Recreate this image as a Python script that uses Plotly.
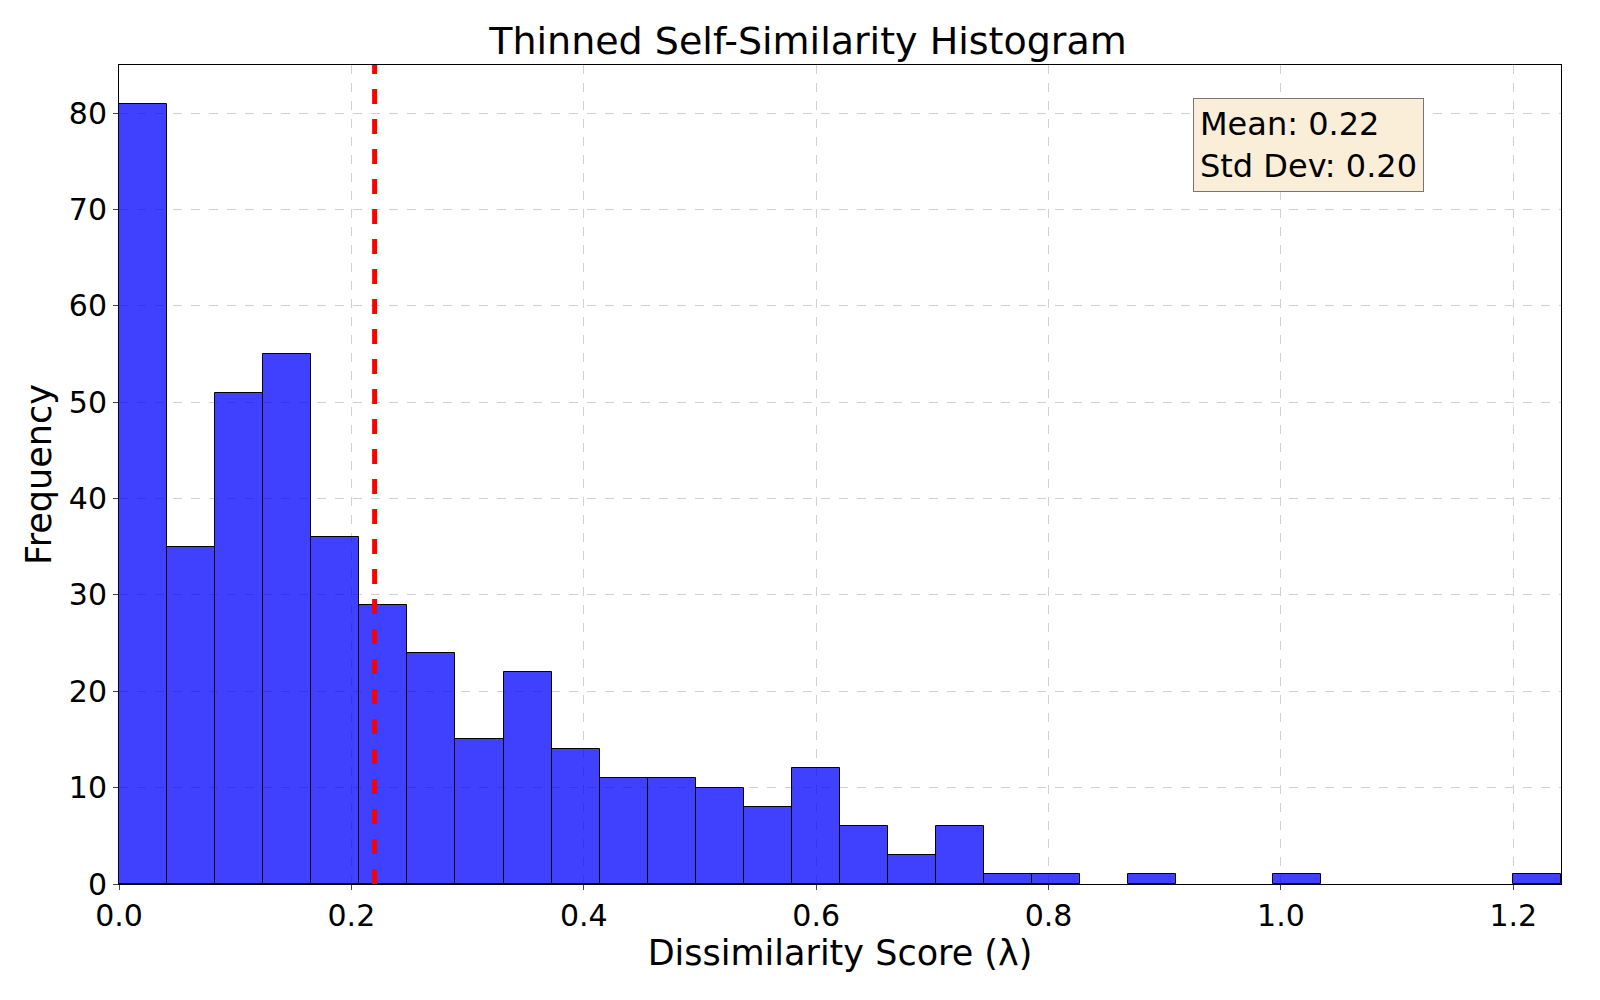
import plotly.graph_objects as go

counts = [81,35,51,55,36,29,24,15,22,14,11,11,10,8,12,6,3,6,1,1,0,1,0,0,1,0,0,0,0,1]
x_min = 0.0
x_max = 1.241
mean_val = 0.22
std_val = 0.20
x_ticks = [0.0, 0.2, 0.4, 0.6, 0.8, 1.0, 1.2]
y_ticks = [0, 10, 20, 30, 40, 50, 60, 70, 80]

n = len(counts)
w = (x_max - x_min) / n
centers = [x_min + w * (i + 0.5) for i in range(n)]
y_vals = [c if c > 0 else None for c in counts]

fig = go.Figure()
fig.add_trace(go.Bar(x=centers, y=y_vals, width=w,
                     marker=dict(color="rgba(0,0,255,0.75)", line=dict(color="black", width=1))))
fig.add_shape(type="line", x0=mean_val, x1=mean_val, y0=0, y1=1, yref="paper",
              line=dict(color="red", width=5, dash="dash"))
fig.add_annotation(x=0.745, y=0.96, xref="paper", yref="paper", xanchor="left", yanchor="top",
                   align="left", showarrow=False,
                   text=f"Mean: {mean_val:.2f}<br>Std Dev: {std_val:.2f}",
                   font=dict(size=32, color="black", family="DejaVu Sans"),
                   bgcolor="#faeed9", bordercolor="#7a7570", borderwidth=1, borderpad=6)
fig.update_layout(
    width=1600, height=1000, plot_bgcolor="white", paper_bgcolor="white",
    margin=dict(l=111, r=47, t=57, b=124), showlegend=False, bargap=0,
    font=dict(family="DejaVu Sans", size=30, color="black"),
    title=dict(text="Thinned Self-Similarity Histogram", x=0.5, xanchor="center", y=0.967,
               yanchor="middle", font=dict(size=38)),
)
fig.update_xaxes(range=[x_min, x_max], tickvals=x_ticks, ticktext=[f"{t:.1f}" for t in x_ticks],
                 showgrid=True, gridcolor="#d0d0d0", griddash="dash", gridwidth=1, ticks="outside",
                 showline=True, linecolor="black", mirror=True, zeroline=False,
                 title=dict(text="Dissimilarity Score (λ)", font=dict(size=35), standoff=6),
                 tickfont=dict(size=30))
fig.update_yaxes(range=[0, 85], tickvals=y_ticks, showgrid=True, gridcolor="#d0d0d0", griddash="dash",
                 ticks="outside", showline=True, linecolor="black", mirror=True, zeroline=False,
                 title=dict(text="Frequency", font=dict(size=35), standoff=6),
                 tickfont=dict(size=30))
fig.write_html("out.html")
